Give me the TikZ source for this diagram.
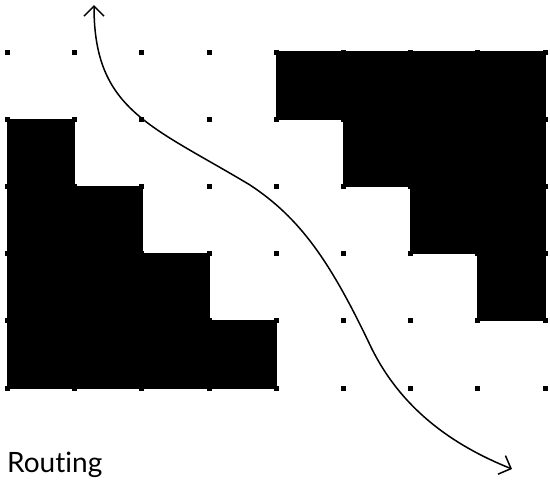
\documentclass[tikz,border=0pt]{standalone}
\usepackage{fontspec}
\setmainfont{Lato}[Ligatures=NoCommon,RawFeature=-liga]
\usetikzlibrary{arrows.meta}
\begin{document}
\begin{tikzpicture}[x=1pt,y=-1pt,
  block/.style={fill=black,draw=black,line width=1.2pt,line join=miter},
  route/.style={line width=1.5pt,{Straight Barb[length=10pt,width=20pt]}-{Straight Barb[length=10pt,width=20pt]}},
  lbl/.style={anchor=base west,inner sep=0pt,font=\fontsize{28}{32}\selectfont}]
\useasboundingbox (0,0) rectangle (550,485);
% grid of dots
\foreach \i in {0,...,8}
  \foreach \j in {0,...,5}
    \fill ({7.5+67.2*\i-2.5},{52+67.2*\j-2.5}) rectangle ++(5,5);
\begin{scope}[shift={(7.5,52)},x=67.2pt,y=-67.2pt]
  % left staircase
  \path[block] (0,1) -- (1,1) -- (1,2) -- (2,2) -- (2,3) -- (3,3) -- (3,4) -- (4,4) -- (4,5) -- (0,5) -- cycle;
  % right staircase
  \path[block] (4,0) -- (8,0) -- (8,4) -- (7,4) -- (7,3) -- (6,3) -- (6,2) -- (5,2) -- (5,1) -- (4,1) -- cycle;
\end{scope}
% routing curve
\coordinate (s) at (94,5);
\coordinate (m1) at (250,185);
\coordinate (m2) at (370,345);
\coordinate (e) at (512,469);
\draw[route] (s) .. controls (94,110) and (150,125) .. (m1)
  .. controls (300,218) and (330,261) .. (m2)
  .. controls (400,408) and (452,445) .. (e);
\node[lbl] (label) at (7,472) {Routing};
\end{tikzpicture}
\end{document}
